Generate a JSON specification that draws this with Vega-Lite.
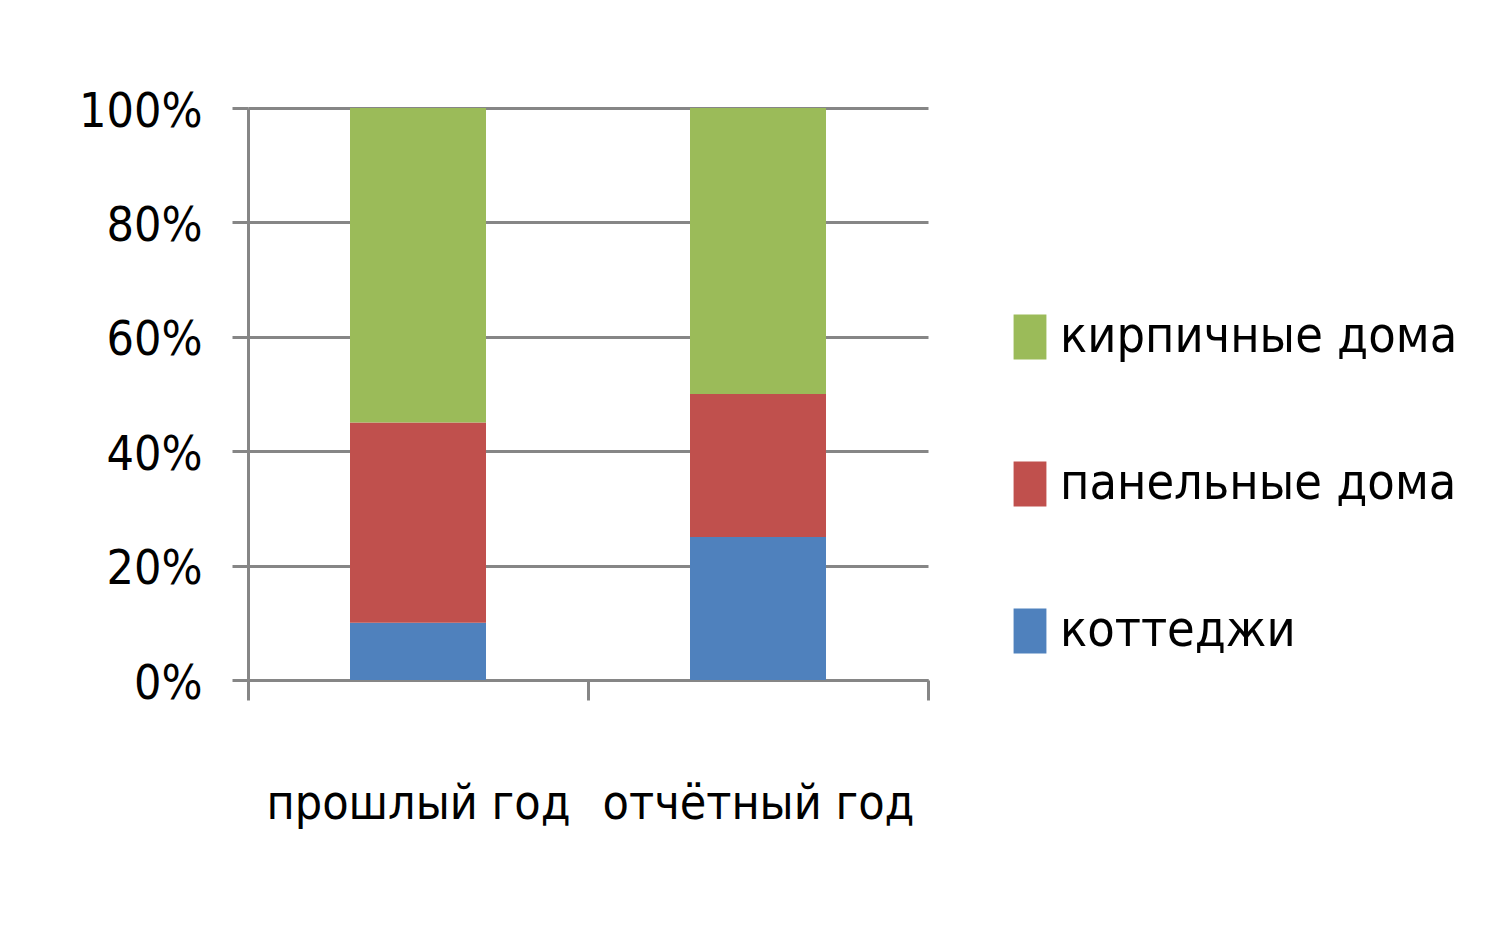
{
  "$schema": "https://vega.github.io/schema/vega-lite/v6.json",
  "autosize": {"type": "none"},
  "padding": {"left": 248, "top": 108, "right": 583, "bottom": 270},
  "width": 680,
  "height": 572,
  "background": "white",
  "data": {
    "values": [
      {"year": "прошлый год", "series": "коттеджи", "value": 10},
      {"year": "прошлый год", "series": "панельные дома", "value": 35},
      {"year": "прошлый год", "series": "кирпичные дома", "value": 55},
      {"year": "отчётный год", "series": "коттеджи", "value": 25},
      {"year": "отчётный год", "series": "панельные дома", "value": 25},
      {"year": "отчётный год", "series": "кирпичные дома", "value": 50}
    ]
  },
  "transform": [
    {"calculate": "indexof(['коттеджи','панельные дома','кирпичные дома'], datum.series)", "as": "ord"}
  ],
  "mark": {"type": "bar", "width": {"band": 0.4}},
  "encoding": {
    "x": {
      "field": "year",
      "type": "nominal",
      "sort": ["прошлый год", "отчётный год"],
      "scale": {"paddingInner": 0, "paddingOuter": 0},
      "axis": {
        "title": null,
        "labelAngle": 0,
        "tickBand": "extent",
        "tickSize": 20,
        "tickWidth": 3,
        "tickColor": "#868686",
        "domainColor": "#868686",
        "domainWidth": 3,
        "labelFont": "DejaVu Sans Condensed",
        "labelFontSize": 48,
        "labelColor": "#000000",
        "labelPadding": 80,
        "labelLimit": 600,
        "grid": false
      }
    },
    "y": {
      "field": "value",
      "type": "quantitative",
      "stack": "normalize",
      "axis": {
        "title": null,
        "values": [0, 0.2, 0.4, 0.6, 0.8, 1],
        "format": ".0%",
        "tickSize": 16,
        "tickWidth": 3,
        "tickColor": "#868686",
        "domainColor": "#868686",
        "domainWidth": 3,
        "gridColor": "#868686",
        "gridWidth": 3,
        "labelFont": "DejaVu Sans Condensed",
        "labelFontSize": 48,
        "labelColor": "#000000",
        "labelPadding": 30,
        "labelOffset": 4
      }
    },
    "color": {
      "field": "series",
      "type": "nominal",
      "scale": {
        "domain": ["кирпичные дома", "панельные дома", "коттеджи"],
        "range": ["#9bbb59", "#c0504d", "#4f81bd"]
      },
      "legend": {
        "title": null,
        "orient": "none",
        "legendX": 757,
        "legendY": 204,
        "padding": 0,
        "symbolType": "M-0.73,-1H0.73V1H-0.73Z",
        "symbolSize": 2025,
        "symbolStrokeWidth": 0,
        "labelFont": "DejaVu Sans Condensed",
        "labelFontSize": 50,
        "labelColor": "#000000",
        "labelOffset": 5,
        "rowPadding": 97,
        "labelLimit": 600
      }
    },
    "order": {"field": "ord", "type": "quantitative"}
  },
  "config": {
    "view": {"stroke": null}
  }
}
